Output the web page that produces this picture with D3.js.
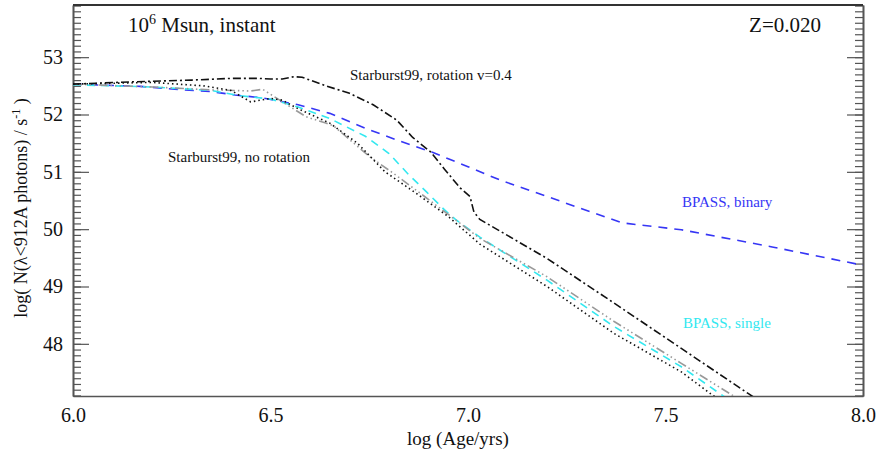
<!DOCTYPE html>
<html>
<head>
<meta charset="utf-8">
<script src="https://cdn.jsdelivr.net/npm/d3@7"></script>
<style>
  body { margin: 0; background: #fff; }
  svg { display: block; font-family: "Liberation Serif", "DejaVu Serif", serif; }
</style>
</head>
<body>
<div id="chart"></div>
<script>

// Starburst99 with rotation (v=0.4)
const rotAge = [6.0, 6.15, 6.3, 6.4, 6.47, 6.5, 6.53, 6.56, 6.58, 6.64, 6.7, 6.76, 6.82, 6.86, 6.905, 6.94, 6.98, 7.005, 7.015, 7.03, 7.2, 7.37, 7.54, 7.71, 7.75];
const rotN   = [52.53, 52.57, 52.6, 52.63, 52.63, 52.62, 52.62, 52.66, 52.65, 52.5, 52.37, 52.17, 51.9, 51.6, 51.35, 51.05, 50.72, 50.57, 50.3, 50.17, 49.49, 48.71, 47.92, 47.13, 46.95];

// Starburst99 without rotation
const noRotAge = [6.0, 6.2, 6.33, 6.4, 6.45, 6.5, 6.53, 6.57, 6.65, 6.72, 6.79, 6.87, 6.95, 7.03, 7.2, 7.37, 7.54, 7.62, 7.66];
const noRotN   = [52.53, 52.56, 52.5, 52.42, 52.22, 52.28, 52.25, 52.1, 51.85, 51.5, 51.0, 50.62, 50.22, 49.74, 49.0, 48.18, 47.51, 47.1, 46.93];

// extra Starburst99 track (grey)
const greyAge = [6.0, 6.2, 6.35, 6.45, 6.48, 6.51, 6.59, 6.64, 6.66, 6.75, 6.81, 6.89, 7.03, 7.2, 7.37, 7.54, 7.67, 7.7];
const greyN   = [52.53, 52.48, 52.43, 52.41, 52.44, 52.31, 51.96, 51.85, 51.8, 51.27, 50.98, 50.57, 49.84, 49.17, 48.39, 47.66, 47.1, 46.97];

// BPASS binary
const binAge = [6.0, 6.17, 6.28, 6.35, 6.41, 6.48, 6.57, 6.65, 6.74, 6.83, 6.91, 7.0, 7.08, 7.39, 7.54, 7.77, 8.0];
const binN   = [52.53, 52.49, 52.43, 52.4, 52.34, 52.29, 52.17, 52.02, 51.76, 51.53, 51.34, 51.09, 50.86, 50.11, 49.99, 49.69, 49.37];

// BPASS single
const sinAge = [6.0, 6.2, 6.35, 6.42, 6.5, 6.57, 6.65, 6.74, 6.8, 6.85, 6.895, 6.94, 6.97, 7.03, 7.2, 7.37, 7.54, 7.64, 7.67];
const sinN   = [52.52, 52.48, 52.42, 52.33, 52.27, 52.13, 51.93, 51.62, 51.32, 50.95, 50.65, 50.34, 50.16, 49.86, 49.11, 48.3, 47.6, 47.12, 46.98];

const xTicks = [6.0, 6.5, 7.0, 7.5, 8.0];
const yTicks = [48, 49, 50, 51, 52, 53];

// margins and plot size
const margin = {top: 5, right: 18, bottom: 57, left: 73};
const width = 881 - margin.left - margin.right;
const height = 453 - margin.top - margin.bottom;

const svg = d3.select("#chart").append("svg")
    .attr("width", 881)
    .attr("height", 453);

const g = svg.append("g")
    .attr("transform", "translate(" + margin.left + "," + margin.top + ")");

// scales
const x = d3.scaleLinear().domain([6.0, 8.0]).range([0, width]);
const y = d3.scaleLinear().domain([47.09, 53.91]).range([height, 0]);

g.append("clipPath").attr("id", "plotclip")
    .append("rect").attr("width", width).attr("height", height);

// left axis: ticks point inward
const minorTicks = d3.range(471, 540).map(d => d / 10);

g.append("g").attr("class", "y-minor")
    .call(d3.axisLeft(y).tickValues(minorTicks).tickSizeInner(-8).tickSizeOuter(0).tickFormat(""));
g.append("g").attr("class", "y-axis")
    .call(d3.axisLeft(y).tickValues(yTicks).tickSizeInner(-16).tickSizeOuter(0).tickPadding(10).tickFormat(d3.format("d")));

// right axis, no labels
g.append("g").attr("class", "y-minor")
    .attr("transform", "translate(" + width + ",0)")
    .call(d3.axisRight(y).tickValues(minorTicks).tickSizeInner(-8).tickSizeOuter(0).tickFormat(""));
g.append("g").attr("class", "y-right")
    .attr("transform", "translate(" + width + ",0)")
    .call(d3.axisRight(y).tickValues(yTicks).tickSizeInner(-16).tickSizeOuter(0).tickFormat(""));

// bottom axis: labels only
g.append("g").attr("class", "x-axis")
    .attr("transform", "translate(0," + height + ")")
    .call(d3.axisBottom(x).tickValues(xTicks).tickSize(0).tickPadding(12).tickFormat(d3.format(".1f")));

// top border
g.append("line")
    .attr("x1", 0).attr("x2", width).attr("y1", 0).attr("y2", 0)
    .attr("stroke", "#333").attr("stroke-width", 2);

g.selectAll(".domain").attr("stroke", "#555").attr("stroke-width", 1.6);
g.selectAll(".tick line").attr("stroke", "#555").attr("stroke-width", 1.2);
g.selectAll(".tick text").attr("font-family", "Liberation Serif").attr("font-size", 20).attr("fill", "#111");

// lines
const series = [
    {age: binAge, n: binN, color: "#3636f5", dash: "9,7", w: 1.6},
    {age: sinAge, n: sinN, color: "#33e8f0", dash: "8,6", w: 1.6},
    {age: greyAge, n: greyN, color: "#999999", dash: "9,3,1.5,3,1.5,3,1.5,3", w: 1.6},
    {age: noRotAge, n: noRotN, color: "#111111", dash: "1.5,3", w: 1.6},
    {age: rotAge, n: rotN, color: "#111111", dash: "8,3,2,3", w: 1.6}
];

const line = d3.line()
    .x(d => x(d[0]))
    .y(d => y(d[1]));

g.append("g").attr("clip-path", "url(#plotclip)")
    .selectAll("path.model")
    .data(series)
    .enter()
    .append("path")
    .attr("class", "model")
    .attr("d", d => line(d.age.map((a, i) => [a, d.n[i]])))
    .attr("fill", "none")
    .attr("stroke", d => d.color)
    .attr("stroke-width", d => d.w)
    .attr("stroke-dasharray", d => d.dash);

// annotations
const title = g.append("text")
    .attr("x", 55).attr("y", 27)
    .attr("font-size", 21).attr("fill", "#111");
title.append("tspan").text("10");
title.append("tspan").attr("font-size", 14).attr("dy", -8).text("6");
title.append("tspan").attr("dy", 8).text(" Msun, instant");

g.append("text")
    .attr("x", 748).attr("y", 27)
    .attr("text-anchor", "end")
    .attr("font-size", 21).attr("fill", "#111")
    .text("Z=0.020");

g.append("text").attr("x", 277).attr("y", 75)
    .attr("font-size", 15).attr("fill", "#111")
    .text("Starburst99, rotation v=0.4");
g.append("text").attr("x", 95).attr("y", 157)
    .attr("font-size", 15).attr("fill", "#111")
    .text("Starburst99, no rotation");
g.append("text").attr("x", 609).attr("y", 202)
    .attr("font-size", 15).attr("fill", "#3636f5")
    .text("BPASS, binary");
g.append("text").attr("x", 610).attr("y", 323)
    .attr("font-size", 15).attr("fill", "#33e8f0")
    .text("BPASS, single");

// axis titles
svg.append("text")
    .attr("x", 458).attr("y", 445)
    .attr("text-anchor", "middle")
    .attr("font-size", 19).attr("fill", "#111")
    .text("log (Age/yrs)");

const ytitle = svg.append("text")
    .attr("transform", "translate(27,208) rotate(-90)")
    .attr("text-anchor", "middle")
    .attr("font-size", 18).attr("fill", "#111");
ytitle.append("tspan").text("log( N(λ<912A photons) / s");
ytitle.append("tspan").attr("font-size", 12).attr("dy", -7).text("-1");
ytitle.append("tspan").attr("dy", 7).text(" )");

</script>
</body>
</html>
